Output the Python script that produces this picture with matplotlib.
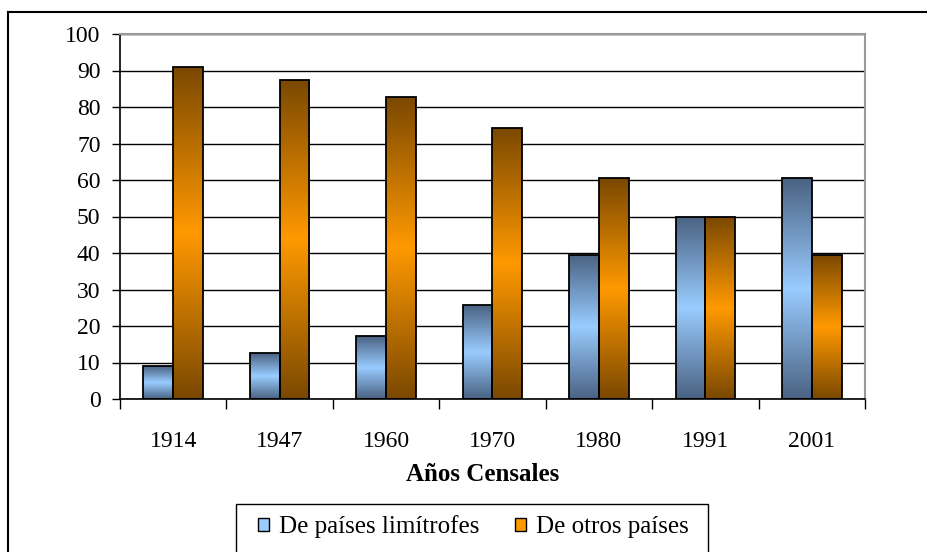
import matplotlib.pyplot as plt
import numpy as np
from matplotlib.colors import LinearSegmentedColormap
from matplotlib.patches import Patch, Rectangle
from matplotlib.lines import Line2D

years = ['1914', '1947', '1960', '1970', '1980', '1991', '2001']
limitrofes = [9.0, 12.6, 17.2, 25.7, 39.5, 50.0, 60.5]
otros = [91.0, 87.4, 82.8, 74.3, 60.5, 50.0, 39.5]
series_names = ['De países limítrofes', 'De otros países']

plt.rcParams['font.family'] = ['Liberation Serif', 'DejaVu Serif']

blue_cmap = LinearSegmentedColormap.from_list('b', ['#4a6282', '#99ccff', '#4a6282'])
orange_cmap = LinearSegmentedColormap.from_list('o', ['#7a4800', '#ff9900', '#7a4800'])

W, H = 928, 552
fig = plt.figure(figsize=(W / 100, H / 100), dpi=100)
# cropped chart border: only top and left edges visible
fig.add_artist(Line2D([8 / W, 8 / W], [0, 1 - 12 / H], color='black', lw=1.5))
fig.add_artist(Line2D([8 / W, 1], [1 - 12 / H, 1 - 12 / H], color='black', lw=1.5))

ax = fig.add_axes([120 / W, 1 - 399 / H, 745 / W, 365 / H])

x = np.arange(len(years))
w = 0.28
grad = np.linspace(0, 1, 256).reshape(-1, 1)


def gradient_bars(xpos, vals, cmap):
    bars = ax.bar(xpos, vals, w, facecolor='none', edgecolor='black', linewidth=1.3, zorder=3)
    for b in bars:
        x0, y0 = b.get_x(), b.get_y()
        im = ax.imshow(grad, cmap=cmap, aspect='auto', zorder=2,
                       extent=[x0, x0 + b.get_width(), y0, y0 + b.get_height()])
        im.set_clip_path(b)
    return bars


gradient_bars(x - w / 2, limitrofes, blue_cmap)
gradient_bars(x + w / 2, otros, orange_cmap)

ax.set_xlim(-0.5, len(years) - 0.5)
ax.set_ylim(0, 100)
ax.set_yticks(range(0, 101, 10))
ax.set_xticks(x)
ax.set_xticklabels(years)
ax.set_xticks(np.arange(-0.5, len(years), 1), minor=True)
ax.tick_params(axis='x', which='major', length=0, labelsize=17, pad=23)
ax.tick_params(axis='x', which='minor', length=7, width=1)
ax.tick_params(axis='y', labelsize=17, length=6, width=1, pad=8)
ax.yaxis.grid(True, color='black', linewidth=1)
ax.set_axisbelow(True)
for s in ['top', 'right']:
    ax.spines[s].set_color('#999999')
    ax.spines[s].set_linewidth(1.5)
ax.spines['left'].set_linewidth(1.2)
ax.spines['bottom'].set_linewidth(1.2)
ax.set_xlabel('Años Censales', fontsize=18, fontweight='bold', labelpad=12)
ax.xaxis.set_label_coords(0.487, -0.175)

# legend box (runs off the bottom edge like the original)
fig.add_artist(Rectangle((236 / W, -0.05), (708 - 236) / W, 0.05 + 1 - 504 / H,
                         transform=fig.transFigure, facecolor='white',
                         edgecolor='black', linewidth=1))
handles = [Patch(facecolor='#99ccff', edgecolor='black'),
           Patch(facecolor='#ff9900', edgecolor='black')]
leg = fig.legend(handles, series_names, loc='center left',
                 bbox_to_anchor=(258 / W, 1 - 527 / H),
                 ncol=2, fontsize=18, frameon=False, borderpad=0, borderaxespad=0,
                 handlelength=0.45, handleheight=0.45, columnspacing=1.4,
                 handletextpad=0.4)

fig.savefig('out.png', dpi=100)
